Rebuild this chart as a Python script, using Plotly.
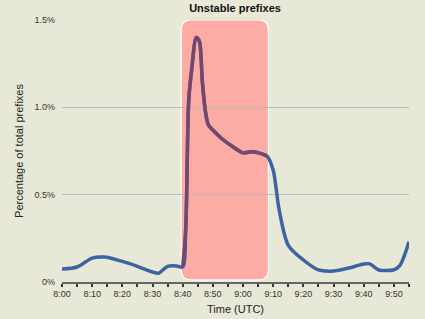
import plotly.graph_objects as go

# minutes after 8:00 UTC
minutes = [0, 5, 10, 14, 20, 25, 30, 32, 35, 38, 40, 41, 42, 43, 44.5, 45.5, 46.5, 47.5, 48.5, 50, 53, 57, 60, 63, 66, 68, 70, 72, 75, 80, 85, 90, 95, 100, 102, 105, 110, 112, 115]
pct = [0.074, 0.086, 0.137, 0.143, 0.118, 0.09, 0.057, 0.05, 0.09, 0.092, 0.086, 0.30, 1.04, 1.22, 1.40, 1.38, 1.15, 0.98, 0.90, 0.87, 0.82, 0.77, 0.74, 0.745, 0.735, 0.72, 0.64, 0.41, 0.21, 0.126, 0.069, 0.063, 0.08, 0.103, 0.104, 0.069, 0.07, 0.095, 0.23]

tick_vals = [0, 10, 20, 30, 40, 50, 60, 70, 80, 90, 100, 110]
tick_text = ["8:00", "8:10", "8:20", "8:30", "8:40", "8:50", "9:00", "9:10", "9:20", "9:30", "9:40", "9:50"]
y_tick_vals = [0, 0.5, 1.0, 1.5]
y_tick_text = ["0%", "0.5%", "1.0%", "1.5%"]

event_start, event_end = 39.5, 68.4
event_bottom, event_top = 0.012, 1.5

font = "Liberation Sans, Arial, sans-serif"

fig = go.Figure()
fig.add_trace(go.Scatter(x=minutes, y=pct, mode="lines",
                         line=dict(color="#3c64a0", width=3.5, shape="spline", smoothing=0.8),
                         hoverinfo="skip", showlegend=False))
inside = [(m, p) for m, p in zip(minutes, pct) if event_start <= m <= event_end]
fig.add_trace(go.Scatter(x=[m for m, _ in inside], y=[p for _, p in inside], mode="lines",
                         line=dict(color="#74486c", width=3.5, shape="spline", smoothing=0.8),
                         hoverinfo="skip", showlegend=False))

rx, ry = 3.3, 0.058
x0, x1, y0, y1 = event_start, event_end, event_bottom, event_top
path = (f"M {x0+rx},{y0} L {x1-rx},{y0} Q {x1},{y0} {x1},{y0+ry} "
        f"L {x1},{y1-ry} Q {x1},{y1} {x1-rx},{y1} L {x0+rx},{y1} Q {x0},{y1} {x0},{y1-ry} "
        f"L {x0},{y0+ry} Q {x0},{y0} {x0+rx},{y0} Z")
fig.add_shape(type="path", path=path, xref="x", yref="y", layer="below",
              fillcolor="#fdaba5", line=dict(color="white", width=1.2))

fig.update_layout(
    width=425, height=319,
    margin=dict(l=62, r=16, t=20, b=37, autoexpand=False),
    paper_bgcolor="#e8e8d6", plot_bgcolor="#e8e8d6",
    font=dict(family=font, size=9, color="#333"),
    title=dict(text="<b>Unstable prefixes</b>", x=0.553, xanchor="center", y=0.985, yanchor="top",
               font=dict(family=font, size=11, color="#111")),
)
fig.update_xaxes(range=[0, 115], tickvals=tick_vals, ticktext=tick_text,
                 showgrid=False, zeroline=False, automargin=False,
                 showline=True, linecolor="#666", linewidth=2,
                 ticks="outside", ticklen=3, tickwidth=1.5, tickcolor="#333",
                 minor=dict(dtick=5, tick0=0, ticks="outside", ticklen=3, tickwidth=1.5, tickcolor="#333", showgrid=False),
                 tickfont=dict(size=9, color="#333"), ticklabelstandoff=-1,
                 title=dict(text="Time (UTC)", font=dict(size=11, color="#222"), standoff=8))
fig.update_yaxes(range=[0, 1.5], tickvals=y_tick_vals, ticktext=y_tick_text,
                 showgrid=True, gridcolor="#b9b9c0", gridwidth=1, zeroline=False, automargin=False,
                 showline=False, ticks="", tickfont=dict(size=9, color="#333"),
                 ticklabelstandoff=6,
                 title=dict(text="Percentage of total prefixes", font=dict(size=11, color="#222"), standoff=8))

fig.write_html("out.html")
